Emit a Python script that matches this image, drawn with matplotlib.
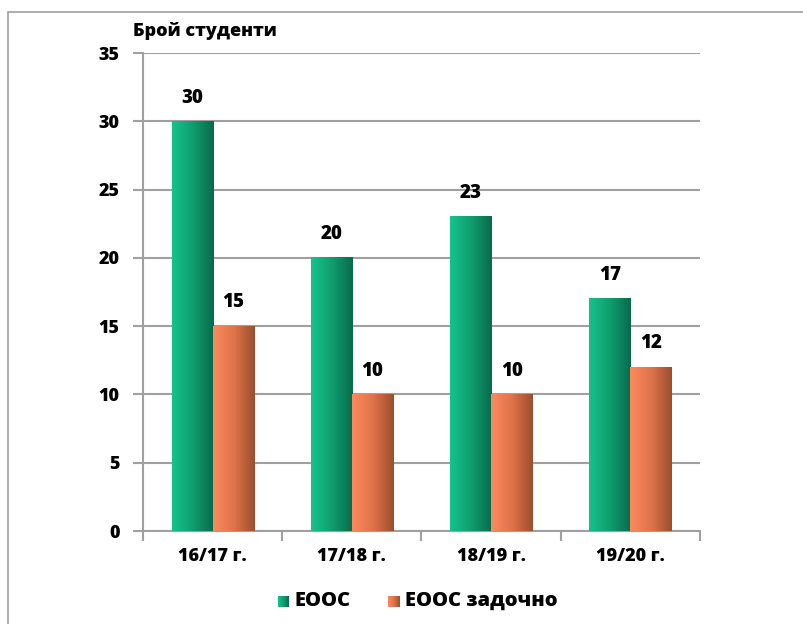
import numpy as np
import matplotlib.pyplot as plt
from matplotlib.colors import LinearSegmentedColormap
from matplotlib.patches import Rectangle

plt.rcParams['font.family'] = ['Open Sans', 'DejaVu Sans']
plt.rcParams['font.weight'] = 'heavy'

years = ["16/17 г.", "17/18 г.", "18/19 г.", "19/20 г."]
full_time = [30, 20, 23, 17]
part_time = [15, 10, 10, 12]
series_names = ["ЕООС", "ЕООС задочно"]

green = LinearSegmentedColormap.from_list("g", ["#16c28b", "#0f9e6e", "#096b4c"])
orange = LinearSegmentedColormap.from_list("o", ["#fc8a5d", "#e0734a", "#9c4f2e"])

fig = plt.figure(figsize=(8.04, 6.24), dpi=100)
ax = fig.add_axes([143 / 804, 1 - 531 / 624, 557 / 804, 478 / 624])

x = np.arange(len(years))
w = 0.295
grad = np.linspace(0, 1, 64).reshape(1, -1)
fw = "heavy"

for vals, cmap, offs in [(full_time, green, -w / 2), (part_time, orange, w / 2)]:
    bars = ax.bar(x + offs, vals, w, color="none", zorder=3)
    for b, v in zip(bars, vals):
        x0 = b.get_x()
        ax.imshow(grad, cmap=cmap, aspect="auto", zorder=3,
                  extent=[x0, x0 + w, 0, v], interpolation="bilinear")
        ax.text(x0 + w / 2, v + 1.0, str(v), ha="center", va="bottom",
                fontsize=13.5, fontweight=fw)

ax.set_xlim(-0.5, len(years) - 0.5)
ax.set_ylim(0, 35)
ax.set_yticks(range(0, 36, 5))
ax.set_yticklabels([str(v) for v in range(0, 36, 5)], fontsize=13, fontweight=fw)
ax.set_xticks(np.arange(-0.5, len(years), 1))
ax.set_xticklabels([])
ax.set_xticks(x, minor=True)
ax.set_xticklabels(years, minor=True, fontsize=13, fontweight=fw)
ax.tick_params(axis="x", which="minor", length=0, pad=12)
ax.tick_params(axis="x", which="major", length=7, width=1.5, color="#a0a0a0", direction="out")
ax.tick_params(axis="y", length=7, width=1.5, color="#a0a0a0", pad=10)
ax.grid(axis="y", color="#a0a0a0", linewidth=1.5, zorder=0)
ax.set_axisbelow(True)
for s in ["top", "right"]:
    ax.spines[s].set_visible(False)
for s in ["left", "bottom"]:
    ax.spines[s].set_color("#a0a0a0")
    ax.spines[s].set_linewidth(1.5)

fig.text(133 / 804, 1 - 31 / 624, "Брой студенти", fontsize=13, fontweight=fw,
         va="center", ha="left")

# legend
for lx, cmap, name in [(278, green, series_names[0]), (388, orange, series_names[1])]:
    lax = fig.add_axes([lx / 804, 1 - 607 / 624, 11 / 804, 11 / 624])
    lax.imshow(grad, cmap=cmap, aspect="auto", interpolation="bilinear")
    lax.axis("off")
    fig.text((lx + 17) / 804, 1 - 601 / 624, name, fontsize=14.5, fontweight=fw,
             va="center", ha="left")

fig.add_artist(Rectangle((8 / 804, -0.1), 1.2, 1 - 12 / 624 + 0.1, transform=fig.transFigure,
                         fill=False, edgecolor="#a0a0a0", linewidth=1.2))

fig.savefig("out.png", dpi=100, facecolor="white")
